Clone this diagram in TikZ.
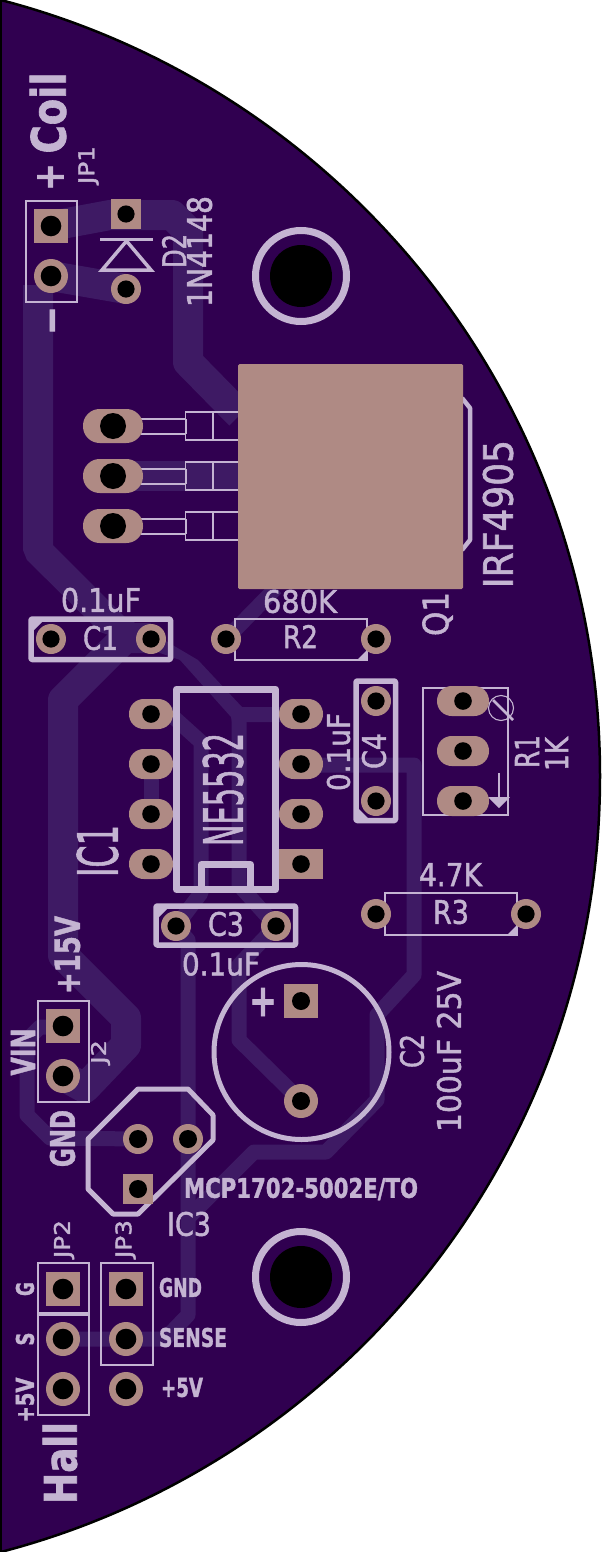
\documentclass[tikz,border=0pt]{standalone}
\usepackage{graphicx}
\usepackage{fontspec}
\setmainfont[FakeBold=1.6,BoldFont={DejaVu Sans Bold}]{DejaVu Sans}
\definecolor{boardc}{HTML}{300050}
\definecolor{tracec}{HTML}{3E1A64}
\definecolor{silkc}{HTML}{C4B4D2}
\definecolor{padc}{HTML}{AF8A84}
\tikzset{
  trw/.style={draw=tracec,line width=30pt,line join=round},
  trn/.style={draw=tracec,line width=15pt,line join=round},
  silk/.style={draw=silkc,line width=1.8pt},
  thick silk/.style={draw=silkc,line width=5.5pt,line join=round},
  thin silk/.style={draw=silkc,line width=1.1pt},
  silkfill/.style={fill=silkc},
  pad/.style={fill=padc},
  hole/.style={fill=black},
  lbl/.style={inner sep=0pt,outer sep=0pt,text=silkc}
}
\newcommand{\st}[7]{\node[lbl,rotate=#6] (#1) at (#2,#3) {\resizebox{#4pt}{#5pt}{#7}};}
% round pad: x y padradius holeradius
\newcommand{\rpad}[4]{\fill[pad] (#1,#2) circle[radius=#3]; \fill[hole] (#1,#2) circle[radius=#4];}
% square pad: x y halfside holeradius
\newcommand{\spad}[4]{\fill[pad] (#1-#3,#2-#3) rectangle (#1+#3,#2+#3); \fill[hole] (#1,#2) circle[radius=#4];}
% oval pad: x y halfwidth halfheight holeradius
\newcommand{\opad}[5]{\fill[pad,rounded corners=#4*0.98pt] (#1-#3,#2-#4) rectangle (#1+#3,#2+#4); \fill[hole] (#1,#2) circle[radius=#5];}
\begin{document}
\begin{tikzpicture}[x=1pt,y=-1pt]
\useasboundingbox (0,0) rectangle (602,1552);
\fill[white] (0,0) rectangle (602,1552);
\begin{scope}
\clip (0,0) rectangle (602,1552);
\fill[boardc] (-201.8,776) circle[radius=801.8];
\draw[black,line width=2.5pt] (-201.8,776) circle[radius=801.8];
\fill[black] (0,0) rectangle (2,1552);

% ---- traces
\draw[trw] (51,226) -- (110,215) -- (172,215) -- (188,231) -- (188,362) -- (240,415);
\draw[trw] (126,289) -- (51,276);
\fill[tracec] (23,285) -- (53,285) -- (53,545) -- (125,617) -- (198,660) -- (242,707) -- (300,707)
  -- (300,722) -- (246,722) -- (232,722) -- (231,717) -- (180,660) -- (100,632) -- (27,560) -- (23,550) -- cycle;
\draw[trw] (151,638) -- (125,638) -- (63,700) -- (63,955) -- (126,1018) -- (126,1045) -- (85,1088) -- (63,1076);
\draw[trn] (239,712) -- (239,885) -- (276,926) -- (239,965) -- (239,1040) -- (301,1101);
\draw[trn] (150,714) -- (170,714) -- (201,742) -- (201,893) -- (176,926) -- (188,940) -- (188,1315) -- (165,1339) -- (63,1339);
\draw[trn] (151,764) -- (151,814);
\draw[trn] (226,639) -- (276,588);
\draw[trw] (113,476) -- (240,476);
\draw[trn] (301,765) -- (414,765) -- (414,975) -- (377,1015) -- (377,1100) -- (326,1152) -- (254,1152) -- (188,1218);
\draw[trn] (63,1027) -- (40,1027) -- (27,1040) -- (27,1115) -- (50,1138) -- (138,1139);

% ---- silk outlines
\draw[silk] (26,201) rectangle (77,302);
\draw[silk] (38,1001) rectangle (89,1102);
\draw[silk] (38,1263) rectangle (89,1313);
\draw[silk] (38,1315) rectangle (89,1415);
\draw[silk] (101,1263) rectangle (153,1365);
% diode
\draw[draw=silkc,line width=3.5pt,line join=round] (100,239.5) -- (153,239.5);
\draw[draw=silkc,line width=3.5pt,line join=miter] (126.5,241) -- (102,270) -- (151,270) -- cycle;
% mounting rings
\draw[draw=silkc,line width=7pt] (301,276) circle[radius=45.5];
\draw[draw=silkc,line width=7pt] (301,1277) circle[radius=45.5];
% Q1 body edge and leads
\draw[draw=silkc,line width=4.5pt,line join=round] (462,398) -- (470,408) -- (470,540) -- (462,550);
\foreach \dy in {0,50,100}{
  \draw[thin silk] (141,419+\dy) -- (185,419+\dy) (141,434+\dy) -- (185,434+\dy);
  \draw[thin silk] (238,412+\dy) -- (185.5,412+\dy) -- (185.5,440+\dy) -- (238,440+\dy);
  \draw[thin silk] (213,412+\dy) -- (213,440+\dy);
  \draw[draw=silkc,line width=1.6pt] (186,419+\dy) -- (186,434+\dy);
}
% capacitor frames
\draw[thick silk,rounded corners=1pt] (31,619) rectangle (170.5,659.5);
\fill[silkfill] (33,621) -- (43,621) -- (33,631) -- cycle;
\draw[thick silk,rounded corners=1pt] (156,906) rectangle (295.5,945);
\fill[silkfill] (158,908) -- (168,908) -- (158,918) -- cycle;
\draw[thick silk,rounded corners=1pt] (356,681) rectangle (395.5,820.5);
\fill[silkfill] (358,808) -- (358,818) -- (368,818) -- cycle;
% R2, R3
\draw[silk] (235,619) rectangle (367,660);
\fill[silkfill] (367,650) -- (367,660) -- (357,660) -- cycle;
\draw[silk] (385,893) rectangle (517,935);
\fill[silkfill] (517,925) -- (517,935) -- (507,935) -- cycle;
% IC1
\draw[draw=silkc,line width=7pt,line join=round] (176.5,689) rectangle (275.5,889.5);
\draw[draw=silkc,line width=7pt,line join=round] (201.5,889) -- (201.5,864.5) -- (250.5,864.5) -- (250.5,889);
% R1
\draw[silk] (423,688) rectangle (508,815);
\draw[draw=silkc,line width=1.1pt] (501,708) circle[radius=12.5];
\draw[draw=silkc,line width=2.6pt] (493,700) -- (513,720);
\draw[draw=silkc,line width=2pt] (499,773) -- (499,798);
\fill[silkfill] (488,797) -- (510,797) -- (499,808) -- cycle;
% C2
\draw[draw=silkc,line width=5pt] (301.5,1052) circle[radius=87.5];
% IC3
\draw[draw=silkc,line width=5pt,line join=round] (138,1089) -- (188,1089) -- (213,1115) -- (213,1140) -- (138,1214) -- (113,1214) -- (88,1189) -- (88,1139) -- cycle;

% ---- pads
\spad{51}{226}{17}{10.3}
\rpad{51}{276}{17}{10.3}
\spad{126}{214}{15}{8.6}
\rpad{126}{289}{15}{8.6}
\fill[hole] (301,276) circle[radius=31];
\fill[hole] (301,1277) circle[radius=31];
\opad{113}{426}{30}{17}{13}
\opad{113}{476}{30}{17}{13}
\opad{113}{526}{30}{17}{13}
\fill[pad,rounded corners=1.5pt] (238,364) rectangle (463,589);
\rpad{51}{639}{15}{8.6}
\rpad{151}{639}{15}{8.6}
\rpad{226}{639}{15}{8.6}
\rpad{376}{639}{15}{8.6}
\foreach \yy in {714,764,814,864}{\opad{151}{\yy}{22}{15}{8.8}}
\foreach \yy in {714,764,814}{\opad{301}{\yy}{22}{15}{8.8}}
\fill[pad] (279,849) rectangle (323,879); \fill[hole] (301,864) circle[radius=8.8];
\rpad{176}{926}{15}{8.6}
\rpad{276}{926}{15}{8.6}
\rpad{376}{701}{15}{8.6}
\rpad{376}{801}{15}{8.6}
\opad{463}{701}{26}{15}{8.8}
\opad{463}{751}{26}{15}{8.8}
\opad{463}{801}{26}{15}{8.8}
\rpad{376}{914}{15}{8.6}
\rpad{526}{914}{15}{8.6}
\spad{301}{1001}{17}{9}
\rpad{301}{1101}{17}{9}
\spad{63}{1026}{17}{10.3}
\rpad{63}{1076}{17}{10.3}
\rpad{138}{1139}{15}{9}
\rpad{188}{1139}{15}{9}
\spad{138}{1189}{15}{9}
\spad{63}{1289}{17}{10.3}
\rpad{63}{1339}{17}{10.3}
\rpad{63}{1389}{17}{10.3}
\spad{126}{1289}{17}{10.3}
\rpad{126}{1339}{17}{10.3}
\rpad{126}{1389}{17}{10.3}

% ---- labels
\st{coil}{48}{113}{81}{36}{90}{\bfseries Coil}
\st{coilp}{50.5}{177}{28}{26}{90}{\bfseries +}
\st{coilm}{56.5}{320.5}{27}{13}{90}{\bfseries –}
\st{jpa}{88.5}{165}{38}{16}{90}{JP1}
\st{dtwo}{174}{251}{34}{24}{90}{D2}
\st{dval}{199.5}{251.5}{111}{25}{90}{1N4148}
\st{irf}{498}{514}{148}{30}{90}{IRF4905}
\st{qone}{437.5}{614}{44}{26}{90}{Q1}
\st{cav}{101}{600}{80}{24}{0}{0.1uF}
\st{can}{100.5}{638}{35}{24}{0}{C1}
\st{rbv}{300}{601.5}{74}{23}{0}{680K}
\st{rbn}{300.5}{636.5}{35}{23}{0}{R2}
\st{ne}{223}{789.5}{113}{40}{90}{NE5532}
\st{icone}{97.5}{851}{52}{41}{90}{IC1}
\st{ccn}{226}{924}{36}{24}{0}{C3}
\st{ccv}{221}{964}{78}{23}{0}{0.1uF}
\st{vfif}{67.5}{955}{78}{25}{90}{\bfseries +15V}
\st{vin}{23}{1052}{47}{24}{90}{\bfseries VIN}
\st{jtwo}{100.5}{1052}{24}{15}{90}{J2}
\st{gnda}{62.5}{1138.5}{57}{25}{90}{\bfseries GND}
\st{cdn}{374}{751}{36}{24}{90}{C4}
\st{cdv}{338.5}{752}{78}{23}{90}{0.1uF}
\st{ran}{527}{751.5}{33}{24}{90}{R1}
\st{rav}{556.5}{754}{34}{23}{90}{1K}
\st{rcv}{450.5}{874.5}{63}{23}{0}{4.7K}
\st{rcn}{451}{912}{36}{24}{0}{R3}
\st{cbn}{412}{1051}{34}{24}{90}{C2}
\st{cbv}{449}{1051.5}{161}{24}{90}{100uF 25V}
\st{cbp}{263}{1002}{28}{28}{0}{\bfseries +}
\st{mcp}{301}{1189}{234}{20}{0}{\bfseries MCP1702-5002E/TO}
\st{icthree}{189}{1224}{44}{24}{0}{IC3}
\st{jpb}{64}{1239}{38}{16}{90}{JP2}
\st{jpc}{125.5}{1239}{38}{16}{90}{JP3}
\st{gndb}{180.5}{1287.5}{43}{19}{0}{\bfseries GND}
\st{sense}{193}{1337.5}{68}{19}{0}{\bfseries SENSE}
\st{fivea}{182}{1387.5}{42}{19}{0}{\bfseries +5V}
\st{gg}{25}{1289}{14}{18}{90}{\bfseries G}
\st{ss}{25}{1339}{13}{18}{90}{\bfseries S}
\st{fiveb}{25}{1400}{45}{18}{90}{\bfseries +5V}
\st{hall}{60}{1463}{82}{34}{90}{\bfseries Hall}
\end{scope}
\end{tikzpicture}
\end{document}
